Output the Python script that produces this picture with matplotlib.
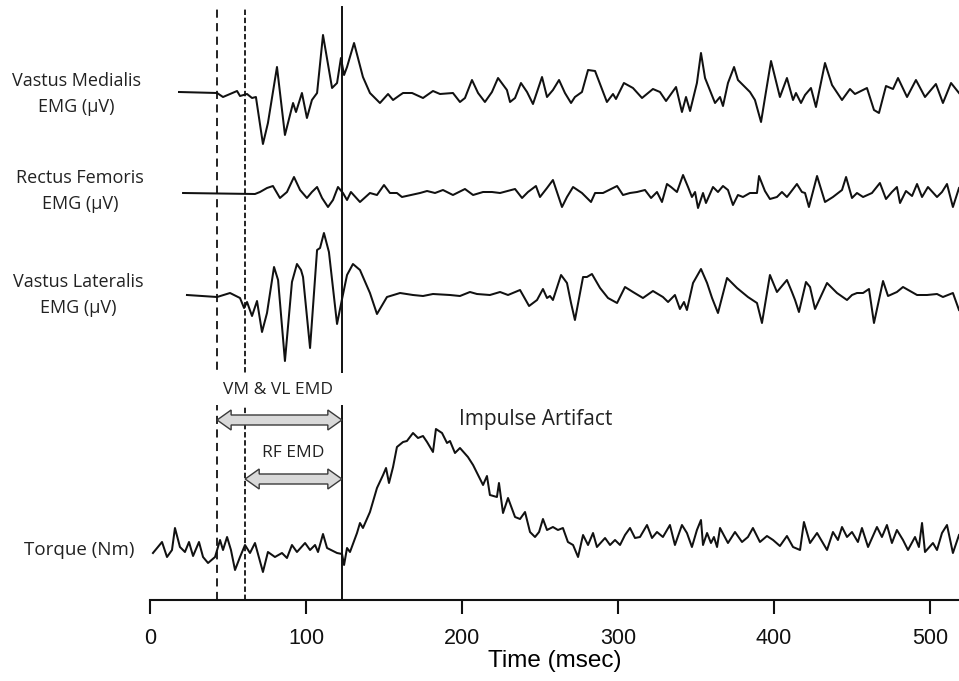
import matplotlib
matplotlib.use("Agg")
import matplotlib.pyplot as plt
from matplotlib.patches import Polygon, Rectangle

# ---------------- data (time in msec, amplitude in arbitrary units) ----------------
vm_t = [18.6, 43.0, 46.8, 55.8, 57.7, 62.2, 65.4, 67.9, 72.4, 75.6, 81.4, 86.5, 91.7, 93.6, 97.4,
        100.6, 103.8, 107.1, 110.9, 116.7, 119.9, 122.4, 124.4, 126.3, 130.8, 136.5, 141.0, 147.4,
        152.6, 155.8, 160.3, 162.2, 168.0, 175.0, 181.4, 185.9, 194.2, 198.7, 201.9, 206.4, 210.3,
        214.7, 219.2, 223.1, 228.8, 230.8, 234.0, 237.8, 241.7, 245.5, 251.3, 254.5, 258.3, 262.2,
        266.0, 269.9, 272.4, 276.9, 280.8, 285.3, 292.9, 296.8, 298.7, 303.8, 309.6, 315.4, 322.4,
        326.9, 330.8, 337.2, 341.0, 343.6, 346.2, 350.6, 353.2, 355.8, 362.2, 365.4, 367.3, 370.5,
        374.4, 376.9, 384.6, 387.8, 391.7, 394.2, 398.1, 403.8, 408.3, 412.2, 414.1, 417.3, 419.9,
        423.7, 426.9, 432.7, 437.2, 443.6, 448.7, 451.9, 459.6, 464.1, 467.3, 471.8, 476.3, 479.5,
        485.3, 491.0, 496.8, 503.8, 508.3, 513.5, 518.6]
vm_v = [0, -1, -5, 1, -4, -2, -6, -5, -52, -31, 25, -43, -11, -20, -1,
        -26, -8, -1, 57, 4, 9, 34, 17, 25, 49, 15, -1, -11,
        -2, -8, -3, -1, -1, -6, 1, -2, -1, -10, -6, 12, -1,
        -10, 0, 14, 2, -10, -6, 9, 0, -12, 15, -5, 2, 12,
        -1, -11, -5, 0, 22, 21, -10, -2, -7, 9, 4, -6, 3,
        0, -9, 5, -20, -5, -19, 9, 39, 14, -11, -5, -14, 9,
        25, 12, 0, -8, -30, -6, 31, -5, 14, -8, -1, -11, -3,
        4, -15, 29, 7, -8, 3, -2, 4, -18, -21, 6, 3, 14,
        -5, 12, -5, 8, -11, 9, -1]

rf_t = [21.2, 67.3, 70.5, 75.0, 78.8, 83.3, 87.8, 92.3, 96.2, 100.6, 103.8, 107.1, 110.3, 114.1,
        117.3, 120.5, 123.7, 126.3, 128.8, 134.6, 141.0, 145.5, 150.0, 153.8, 158.3, 161.5, 173.1,
        177.6, 182.7, 187.8, 194.2, 201.9, 207.1, 213.5, 219.2, 224.4, 234.0, 238.5, 242.3, 247.4,
        250.0, 254.5, 258.3, 264.1, 267.3, 271.2, 276.9, 282.7, 285.3, 290.4, 299.4, 303.2, 307.7,
        312.2, 317.3, 321.2, 325.0, 328.2, 331.4, 334.0, 337.8, 341.7, 344.9, 347.4, 349.4, 351.3,
        354.5, 356.4, 360.9, 364.1, 367.3, 370.5, 373.7, 376.9, 380.1, 384.6, 389.1, 390.4, 394.2,
        397.4, 401.9, 405.1, 408.3, 410.3, 414.7, 417.9, 419.9, 422.4, 427.6, 432.7, 437.8, 443.6,
        446.2, 450.0, 453.2, 457.1, 462.8, 467.9, 471.8, 475.6, 478.8, 480.8, 484.6, 488.5, 491.7,
        494.9, 498.7, 504.5, 507.7, 510.9, 514.7, 518.6]
rf_v = [0, -1, 1, 5, 7, -5, 1, 16, 3, -5, 1, 6, -5, -14,
        -7, 6, 0, -7, 1, -9, 0, -2, 8, 0, 0, -4, 0,
        2, 0, 3, -2, 4, -2, 1, 1, 0, 4, -5, 1, 7,
        -4, 5, 13, -14, -4, 6, 0, -9, 0, 0, 7, -2, 0,
        1, 3, -5, 1, -9, 9, 6, 1, 18, 6, -4, 1, -15,
        0, -10, 6, 1, 7, 3, -12, -2, -4, 0, 0, 17, 2,
        -6, -4, 1, -4, 0, 9, 1, 0, -14, 17, -9, -4, 3,
        16, -5, 0, -4, 0, 10, -6, 1, 6, -10, 2, -3, 9,
        -4, 6, -4, 1, 9, -14, 5]

vl_t = [23.7, 43.0, 51.3, 57.7, 60.3, 62.2, 65.4, 68.6, 71.8, 75.0, 79.5, 82.1, 86.5, 91.0, 94.2,
        96.8, 98.1, 102.6, 107.1, 109.0, 111.5, 114.7, 119.9, 123.1, 126.3, 130.1, 134.6, 141.0,
        145.5, 151.9, 160.3, 168.6, 175.0, 181.4, 192.3, 198.7, 205.1, 209.6, 217.9, 224.4, 229.5,
        237.2, 243.0, 248.1, 251.9, 254.5, 256.4, 258.3, 263.5, 267.3, 269.9, 272.4, 277.6, 280.1,
        283.3, 288.5, 293.6, 299.4, 304.5, 309.6, 316.0, 322.4, 328.8, 332.1, 336.5, 339.7, 342.3,
        344.2, 348.1, 353.2, 357.1, 360.3, 364.1, 369.9, 376.3, 383.3, 389.1, 392.3, 397.4, 401.9,
        408.3, 411.5, 413.5, 416.0, 420.5, 423.1, 426.3, 434.0, 440.4, 446.8, 450.0, 453.2, 457.1,
        460.9, 464.1, 469.9, 473.1, 478.8, 482.7, 491.7, 498.1, 504.5, 508.3, 514.7, 518.6]
vl_v = [0, -2, 2, -3, -13, -7, -21, -6, -37, -18, 28, 15, -66, 13, 31,
        25, 18, -53, 45, 47, 62, 43, -29, -4, 20, 31, 25, 2,
        -19, -2, 2, 0, -1, 1, 0, -1, 3, 1, 0, 3, 0,
        5, -11, -5, 6, -3, -1, -5, 20, 12, -8, -25, 18, 18,
        21, 7, -3, -8, 8, 3, -3, 4, -2, -7, 0, -14, -7,
        -15, 12, 26, 12, -3, -18, 17, 7, -2, -8, -28, 20, 3,
        15, 3, -5, -17, 13, 8, -14, 12, 2, -5, 0, 2, 2,
        6, -28, 14, -1, 3, 8, 0, 0, 1, -2, 2, -15]

tq_t = [1.9, 7.7, 10.9, 14.1, 16.0, 19.2, 22.4, 25.0, 27.6, 31.4, 34.0, 37.2, 41.7, 44.9, 46.8,
        49.4, 51.9, 54.5, 57.7, 60.9, 64.1, 67.3, 69.9, 72.4, 75.6, 80.1, 84.6, 87.8, 91.0, 94.2,
        99.4, 102.6, 105.8, 107.7, 110.9, 113.5, 119.9, 123.1, 124.4, 126.3, 128.2, 132.7, 134.6,
        136.5, 141.0, 145.5, 149.4, 151.3, 153.2, 155.8, 158.3, 162.2, 164.7, 168.6, 171.8, 175.0,
        177.6, 181.4, 183.3, 187.2, 190.4, 192.3, 195.5, 198.7, 203.8, 207.1, 210.3, 213.5, 216.0,
        217.9, 222.4, 223.7, 226.3, 229.5, 234.0, 237.2, 240.4, 243.6, 246.8, 249.4, 251.9, 254.5,
        258.3, 261.5, 264.7, 267.9, 271.2, 274.4, 277.6, 280.8, 284.0, 286.5, 291.7, 294.9, 298.1,
        301.3, 304.5, 307.7, 310.9, 314.1, 318.6, 321.8, 325.0, 328.8, 333.3, 336.5, 341.0, 344.2,
        347.4, 350.6, 353.2, 354.5, 357.1, 359.6, 361.5, 363.5, 365.4, 370.5, 375.0, 379.5, 383.3,
        386.5, 391.0, 395.5, 399.4, 403.8, 408.3, 412.2, 416.7, 419.2, 423.1, 427.6, 434.0, 437.8,
        441.0, 443.6, 446.8, 450.0, 453.8, 456.4, 460.3, 466.0, 469.2, 472.4, 475.6, 478.8, 482.7,
        485.9, 490.4, 492.9, 494.9, 496.8, 501.9, 504.5, 507.7, 510.9, 514.7, 518.6]
tq_v = [-3, 8, -7, 0, 22, 3, -2, 8, -6, 8, -7, -13, -7, 10, 0,
        13, 0, -20, -7, 5, -3, 7, -8, -22, -2, -7, -3, -8, 5, -2,
        7, 0, 5, -2, 16, 2, -3, -4, -15, 2, -2, 17, 27,
        22, 38, 62, 75, 82, 67, 83, 103, 108, 109, 117, 112, 114,
        108, 98, 121, 117, 107, 109, 97, 102, 93, 85, 75, 65, 74,
        55, 53, 67, 37, 52, 33, 31, 38, 18, 13, 18, 31, 20,
        23, 20, 22, 8, 5, -7, 15, 5, 17, 3, 12, 5, 10,
        5, 15, 22, 12, 13, 25, 12, 18, 13, 25, 5, 25, 17,
        3, 20, 30, 5, 17, 7, 13, 3, 22, 7, 18, 8, 13,
        22, 8, 14, 10, 4, 14, 3, 0, 28, 7, 17, 0, 18,
        10, 23, 13, 18, 8, 22, 3, 23, 13, 25, 7, 20, 10,
        0, 13, 3, 27, -2, 7, 0, 17, 25, -3, 15]

trace_names = ["Vastus Medialis\nEMG (\u00b5V)", "Rectus Femoris\nEMG (\u00b5V)",
               "Vastus Lateralis\nEMG (\u00b5V)", "Torque (Nm)"]
onset_times = [43, 61]      # EMG onsets (VM & VL, RF)
torque_onset = 123
xticks = [0, 100, 200, 300, 400, 500]

# ---------------- figure ----------------
W, H = 959, 681
fig = plt.figure(figsize=(W / 100, H / 100), dpi=100)
ax = fig.add_axes([150 / W, 81 / H, 1 - 150 / W, 600 / H])
ax.set_xlim(0, 518.6)
ax.set_ylim(0, 600)

offsets = [508, 407, 305, 50]
series = [(vm_t, vm_v), (rf_t, rf_v), (vl_t, vl_v), (tq_t, tq_v)]
for (t, v), off in zip(series, offsets):
    ax.plot(t, [off + y for y in v], color="#111111", lw=1.45, solid_joinstyle="round", zorder=2)

ax.plot([onset_times[0]] * 2, [0, 592], color="#111111", lw=1.3, ls=(0, (4.5, 3)), zorder=2)
ax.plot([onset_times[1]] * 2, [0, 592], color="#111111", lw=1.3, ls=(0, (3, 1.5)), zorder=2)
ax.plot([torque_onset] * 2, [0, 593], color="#111111", lw=1.4, zorder=2)


def double_arrow(x0, x1, y, head_len=9.0, head_h=10.0, body_h=5.0):
    pts = [(x0, y), (x0 + head_len, y + head_h), (x0 + head_len, y + body_h),
           (x1 - head_len, y + body_h), (x1 - head_len, y + head_h), (x1, y),
           (x1 - head_len, y - head_h), (x1 - head_len, y - body_h),
           (x0 + head_len, y - body_h), (x0 + head_len, y - head_h)]
    ax.add_patch(Polygon(pts, closed=True, fc="#d9d9d9", ec="#3a3a3a", lw=1.0, zorder=3))


double_arrow(onset_times[0], torque_onset, 180)
double_arrow(onset_times[1], torque_onset, 121)

lab_font = "Open Sans"
# white band behind the "VM & VL EMD" label interrupting the vertical lines
ax.add_patch(Rectangle((onset_times[0] - 2, 195), torque_onset - onset_times[0] + 4, 32,
                       fc="white", ec="none", zorder=2.5))
ax.text((onset_times[0] + torque_onset) / 2 - 1, 210, "VM & VL EMD", ha="center", va="center",
        fontsize=12.5, family=lab_font, color="#222222", zorder=4)
ax.text((onset_times[1] + torque_onset) / 2 - 0.5, 147, "RF EMD", ha="center", va="center",
        fontsize=12.5, family=lab_font, color="#222222", zorder=4)
ax.text(247, 181, "Impulse Artifact", ha="center", va="center",
        fontsize=15, family=lab_font, color="#222222")

# trace labels
label_pos = [(76, 94), (80, 191), (78, 295), (79, 550)]
for name, (px, py) in zip(trace_names, label_pos):
    fs = 13.5 if "Torque" in name else 13
    fig.text(px / W, 1 - py / H, name, ha="center", va="center", fontsize=fs,
             family=lab_font, color="#222222", linespacing=1.6)

# axis styling
for s in ["left", "top", "right"]:
    ax.spines[s].set_visible(False)
ax.spines["bottom"].set_linewidth(1.5)
ax.spines["bottom"].set_color("#111111")
ax.set_yticks([])
ax.set_xticks(xticks)
ax.set_xticklabels([str(x) for x in xticks], family="Liberation Sans", fontsize=15.5)
ax.tick_params(axis="x", direction="out", length=10, width=1.5, pad=10, colors="#111111")
ax.set_xlabel("Time (msec)", family="Liberation Sans", fontsize=17.5, labelpad=1)

fig.savefig("out.png", dpi=100)
